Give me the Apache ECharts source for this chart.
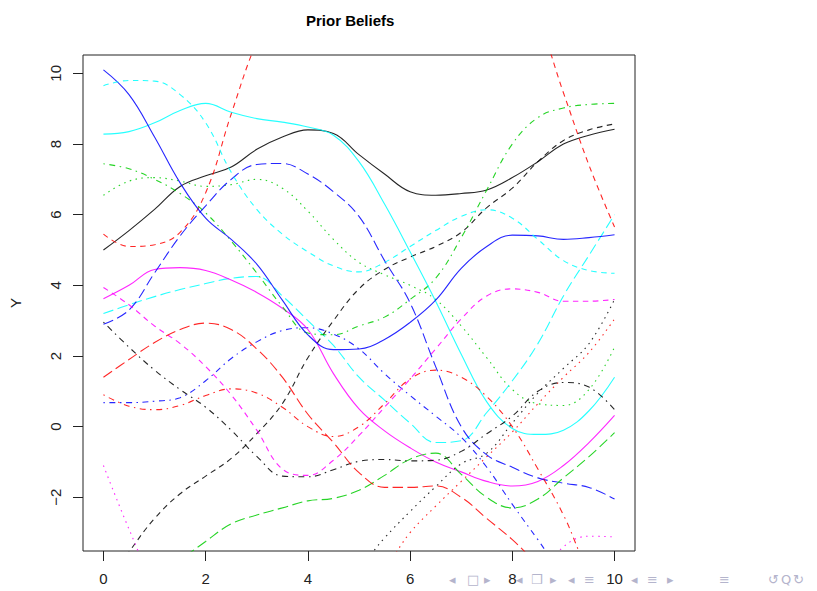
<!DOCTYPE html>
<html>
<head>
<meta charset="utf-8">
<script src="https://cdn.jsdelivr.net/npm/echarts@6/dist/echarts.min.js"></script>
<style>
html,body{margin:0;padding:0;background:#fff;}
#chart{width:817px;height:591px;}
</style>
</head>
<body>
<div id="chart"></div>
<script>
// ---- data ----
const xs = [0,0.5,1,1.5,2,2.5,3,3.5,4,4.5,5,5.5,6,6.5,7,7.5,8,8.5,9,9.5,10];
const xTicks = [0,2,4,6,8,10];
const yTicks = [-2,0,2,4,6,8,10];

const blackSolid     = [5.0,5.55,6.15,6.8,7.1,7.35,7.85,8.2,8.4,8.3,7.7,7.15,6.65,6.55,6.6,6.7,7.05,7.5,8.0,8.25,8.42];
const redDashed      = [5.45,5.1,5.15,5.5,6.62,8.85,10.9,12.3,13.3,14.0,14.4,14.5,14.4,14.1,13.7,13.2,12.6,11.5,9.45,7.4,5.65];
const greenDotted    = [6.55,6.95,7.05,6.95,6.8,6.85,7.0,6.75,6.1,5.3,4.65,4.3,4.0,3.6,2.85,1.95,1.05,0.65,0.6,1.05,2.25];
const blueDotDash    = [0.68,0.68,0.72,0.82,1.3,1.93,2.4,2.72,2.8,2.62,2.2,1.5,0.88,0.3,-0.3,-1.15,-2.2,-3.2,-4.2,-4.8,-5.0];
const cyanLongDash   = [3.2,3.45,3.68,3.88,4.05,4.2,4.25,3.7,3.0,2.3,1.4,0.75,0.1,-0.45,-0.4,0.4,1.3,2.35,3.7,4.85,6.0];
const magentaSolid   = [3.62,4.0,4.45,4.5,4.42,4.15,3.8,3.35,2.75,1.5,0.5,-0.12,-0.6,-1.0,-1.28,-1.55,-1.68,-1.55,-1.1,-0.45,0.32];
const blackDashed    = [-4.6,-3.55,-2.6,-1.9,-1.4,-0.9,-0.2,0.65,1.95,3.0,3.9,4.45,4.8,5.1,5.5,6.2,6.75,7.5,8.1,8.4,8.57];
const redDotted      = [-7.5,-7.3,-7.0,-6.8,-6.6,-6.4,-6.2,-5.9,-5.5,-5.0,-4.6,-4.0,-3.0,-2.25,-1.55,-0.85,-0.15,0.65,1.4,2.1,3.05];
const greenDotDash   = [7.44,7.3,7.0,6.6,6.05,5.25,4.35,3.4,2.65,2.6,2.85,3.1,3.6,4.2,5.35,6.7,8.0,8.75,9.02,9.12,9.15];
const blueLongDash   = [2.9,3.3,4.35,5.4,6.25,7.0,7.42,7.45,7.15,6.65,5.95,4.7,3.5,1.7,0.0,-0.8,-1.15,-1.45,-1.6,-1.72,-2.05];
const cyanSolid      = [8.28,8.35,8.6,8.95,9.15,8.9,8.72,8.62,8.48,8.25,7.5,6.3,4.95,3.55,2.05,0.7,-0.05,-0.22,-0.1,0.45,1.4];
const magentaDashed  = [3.94,3.45,2.85,2.35,1.7,0.9,-0.1,-1.2,-1.38,-0.95,-0.25,0.55,1.35,2.2,3.05,3.7,3.9,3.8,3.55,3.55,3.6];
const blackDotted    = [-8.0,-7.8,-7.5,-7.2,-6.9,-6.5,-6.1,-5.6,-5.1,-4.6,-4.0,-3.15,-2.4,-1.7,-1.05,-0.75,0.1,0.95,1.65,2.35,3.6];
const redDotDash     = [0.9,0.58,0.48,0.6,0.88,1.07,0.95,0.55,0.0,-0.28,0.0,0.65,1.35,1.6,1.4,0.85,0.0,-1.2,-2.5,-4.1,-5.0];
const greenLongDash  = [-5.5,-5.0,-4.5,-3.8,-3.25,-2.75,-2.5,-2.3,-2.1,-2.03,-1.8,-1.38,-0.92,-0.75,-1.35,-2.0,-2.3,-2.05,-1.45,-0.85,-0.17];
const blueSolid      = [10.1,9.4,8.2,6.9,5.9,5.3,4.6,3.58,2.6,2.18,2.2,2.47,2.95,3.58,4.48,5.1,5.42,5.4,5.3,5.35,5.43];
const cyanDashed     = [9.65,9.8,9.78,9.4,8.6,7.2,6.15,5.45,4.95,4.55,4.38,4.65,5.1,5.55,5.95,6.14,5.9,5.3,4.7,4.42,4.34];
const magentaDotted  = [-1.1,-2.9,-4.5,-5.5,-6.0,-6.3,-6.5,-6.6,-6.6,-6.5,-6.4,-6.2,-6.0,-5.7,-5.4,-5.0,-4.6,-4.3,-3.4,-3.1,-3.12];
const blackDotDash   = [2.96,2.25,1.6,1.05,0.55,-0.1,-0.84,-1.4,-1.42,-1.22,-0.98,-0.93,-0.97,-0.95,-0.7,-0.2,0.3,1.0,1.25,1.12,0.48];
const redLongDash    = [1.4,1.9,2.38,2.75,2.93,2.75,2.2,1.4,0.35,-0.45,-1.3,-1.72,-1.72,-1.68,-2.0,-2.6,-3.2,-3.9,-4.5,-5.0,-5.3];

// ---- styles (R matplot colour / lty cycling) ----
const C = {black:'#000000', red:'#FF0000', green:'#00CD00', blue:'#0000FF', cyan:'#00FFFF', magenta:'#FF00FF'};
const L = {
  solid: 'solid',
  dashed: [5.5,4.5],
  dotted: [1.5,4.5],
  dotdash: [1.5,4.5,6,4.5],
  longdash: [10.5,4.5]
};
const defs = [
  ['blackSolid', blackSolid, C.black, L.solid],
  ['redDashed', redDashed, C.red, L.dashed],
  ['greenDotted', greenDotted, C.green, L.dotted],
  ['blueDotDash', blueDotDash, C.blue, L.dotdash],
  ['cyanLongDash', cyanLongDash, C.cyan, L.longdash],
  ['magentaSolid', magentaSolid, C.magenta, L.solid],
  ['blackDashed', blackDashed, C.black, L.dashed],
  ['redDotted', redDotted, C.red, L.dotted],
  ['greenDotDash', greenDotDash, C.green, L.dotdash],
  ['blueLongDash', blueLongDash, C.blue, L.longdash],
  ['cyanSolid', cyanSolid, C.cyan, L.solid],
  ['magentaDashed', magentaDashed, C.magenta, L.dashed],
  ['blackDotted', blackDotted, C.black, L.dotted],
  ['redDotDash', redDotDash, C.red, L.dotdash],
  ['greenLongDash', greenLongDash, C.green, L.longdash],
  ['blueSolid', blueSolid, C.blue, L.solid],
  ['cyanDashed', cyanDashed, C.cyan, L.dashed],
  ['magentaDotted', magentaDotted, C.magenta, L.dotted],
  ['blackDotDash', blackDotDash, C.black, L.dotdash],
  ['redLongDash', redLongDash, C.red, L.longdash]
];

const series = defs.map(([name, vals, color, type]) => ({
  name: name,
  type: 'line',
  data: xs.map((x, i) => [x, vals[i]]),
  showSymbol: false,
  smooth: 0.4,
  clip: true,
  lineStyle: {color: color, width: 1.1, type: type, opacity: 0.85},
  emphasis: {disabled: true},
  silent: true
}));

const FONT = 'Liberation Sans, Arial, Helvetica, sans-serif';
const fmt = v => (v < 0 ? '\u2212' + (-v) : String(v));

const chart = echarts.init(document.getElementById('chart'), null, {renderer: 'svg'});
const navColor = '#b4b4cc';
const nav = [
  ['\u25C2', 455], ['\u25A1', 473], ['\u25B8', 490],
  ['\u25C2', 522], ['\u2752', 537], ['\u25B8', 556],
  ['\u25C2', 574], ['\u2261', 590],
  ['\u25C2', 637], ['\u2261', 653], ['\u25B8', 673],
  ['\u2261', 725],
  ['\u21BA', 774], ['Q', 787], ['\u21BB', 799]
];
chart.setOption({
  animation: false,
  backgroundColor: '#ffffff',
  title: {
    text: 'Prior Beliefs',
    left: 301, top: 8,
    textStyle: {fontFamily: FONT, fontWeight: 'bold', fontSize: 15, color: '#000'}
  },
  grid: {left: 82, top: 55, width: 553, height: 496, show: true, borderColor: '#222', borderWidth: 1, backgroundColor: 'transparent'},
  xAxis: {
    type: 'value', min: -0.4, max: 10.4,
    axisLine: {show: false, onZero: false},
    splitLine: {show: false},
    axisTick: {show: true, length: 10, customValues: xTicks, lineStyle: {color: '#222', width: 1}},
    axisLabel: {customValues: xTicks, formatter: fmt, margin: 20, fontSize: 15, fontFamily: FONT, color: '#222'}
  },
  yAxis: {
    type: 'value', min: -3.52, max: 10.52,
    name: 'Y', nameLocation: 'middle', nameRotate: 90, nameGap: 60,
    nameTextStyle: {fontFamily: FONT, fontSize: 15, color: '#222'},
    axisLine: {show: false, onZero: false},
    splitLine: {show: false},
    axisTick: {show: true, length: 10, customValues: yTicks, lineStyle: {color: '#222', width: 1}},
    axisLabel: {customValues: yTicks, formatter: fmt, rotate: 90, margin: 20, fontSize: 15, fontFamily: FONT, color: '#222'}
  },
  graphic: nav.map(([t, x]) => ({
    type: 'text', left: x - 6, top: 573, silent: true,
    style: {text: t, fontSize: 13, fontFamily: 'DejaVu Sans', fill: navColor}
  })),
  series: series
});
</script>
</body>
</html>
